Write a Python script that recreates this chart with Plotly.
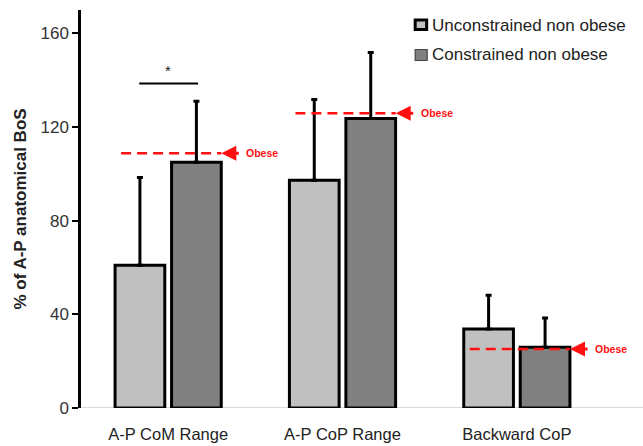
import plotly.graph_objects as go

categories = ["A-P CoM Range", "A-P CoP Range", "Backward CoP"]
series_names = ["Unconstrained non obese", "Constrained non obese"]
unconstrained_mean = [61.0, 97.3, 33.7]
unconstrained_err = [37.5, 34.5, 14.5]
constrained_mean = [105.0, 123.7, 26.0]
constrained_err = [26.0, 28.2, 12.4]
obese_values = [108.8, 125.9, 25.2]
obese_label = "Obese"
sig_bracket_y = 138.6
sig_label = "*"
y_ticks = [0, 40, 80, 120, 160]

light = "#c0c0c0"
dark = "#808080"
red = "#ff1010"
font = "Liberation Sans, Arial, sans-serif"

fig = go.Figure()
fig.add_trace(go.Bar(
    x=categories, y=unconstrained_mean, name=series_names[0],
    marker=dict(color=light, line=dict(color="black", width=3)),
    error_y=dict(type="data", symmetric=False, array=unconstrained_err,
                 arrayminus=[0] * len(categories), color="black", thickness=3, width=3),
    showlegend=False,
))
fig.add_trace(go.Bar(
    x=categories, y=constrained_mean, name=series_names[1],
    marker=dict(color=dark, line=dict(color="black", width=3)),
    error_y=dict(type="data", symmetric=False, array=constrained_err,
                 arrayminus=[0] * len(categories), color="black", thickness=3, width=3),
    showlegend=False,
))

shapes = []
annotations = []
line_start_off = -0.27
tip_off = 0.305
for i, v in enumerate(obese_values):
    shapes.append(dict(type="line", xref="x", yref="y", x0=i + line_start_off, x1=i + tip_off,
                       y0=v, y1=v, line=dict(color=red, width=2.5, dash="10px,6px")))
    annotations.append(dict(x=i + tip_off, y=v, xref="x", yref="y", text="", showarrow=True,
                            ax=19, ay=0, arrowhead=2, arrowsize=1, arrowwidth=3,
                            arrowcolor=red, standoff=0))
    annotations.append(dict(x=i + tip_off, y=v, xref="x", yref="y", text="<b>%s</b>" % obese_label,
                            showarrow=False, xanchor="left", yanchor="middle", xshift=23,
                            font=dict(family=font, size=10.5, color=red)))

shapes.append(dict(type="line", xref="x", yref="y", x0=-0.166, x1=0.172,
                   y0=sig_bracket_y, y1=sig_bracket_y, line=dict(color="black", width=2)))
annotations.append(dict(x=0.0, y=sig_bracket_y, xref="x", yref="y", text=sig_label,
                        showarrow=False, yanchor="bottom", yshift=3,
                        font=dict(family=font, size=15, color="#222")))

shapes.append(dict(type="line", xref="paper", yref="y", x0=0, x1=1.08, y0=0, y1=0,
                   line=dict(color="#cfcfcf", width=1.5), layer="below"))

W, H = 523.5, 398.0
def px_x(p):
    return (p - 81) / W
def px_y(p):
    return (408 - p) / H
shapes.append(dict(type="rect", xref="paper", yref="paper",
                   x0=px_x(415.5), x1=px_x(427), y0=px_y(29.5), y1=px_y(20),
                   fillcolor=light, line=dict(color="black", width=3)))
shapes.append(dict(type="rect", xref="paper", yref="paper",
                   x0=px_x(415.5), x1=px_x(427.5), y0=px_y(60.5), y1=px_y(49.5),
                   fillcolor=dark, line=dict(color="#444", width=1.2)))
annotations.append(dict(xref="paper", yref="paper", x=px_x(430), y=px_y(25), text=series_names[0],
                        showarrow=False, xanchor="left", yanchor="middle",
                        font=dict(family=font, size=17, color="#222")))
annotations.append(dict(xref="paper", yref="paper", x=px_x(430), y=px_y(55), text=series_names[1],
                        showarrow=False, xanchor="left", yanchor="middle",
                        font=dict(family=font, size=17, color="#222")))

fig.update_layout(
    width=643, height=446,
    margin=dict(l=81, r=38.5, t=10, b=38),
    paper_bgcolor="white", plot_bgcolor="white",
    barmode="group", bargap=0.352, bargroupgap=0.12,
    shapes=shapes, annotations=annotations,
    font=dict(family=font, size=17, color="#222"),
    xaxis=dict(range=[-0.5, 2.5], autorange=False, showline=False, ticks="", showgrid=False,
               zeroline=False, automargin=False, ticklabelstandoff=14,
               tickfont=dict(family=font, size=16.5, color="#222")),
    yaxis=dict(range=[0, 170], tickvals=y_ticks, showgrid=False, zeroline=False,
               automargin=False,
               showline=True, linecolor="black", linewidth=2.5,
               ticks="outside", ticklen=6, tickwidth=2, tickcolor="black",
               tickfont=dict(family=font, size=17, color="#333"),
               title=dict(text="<b>% of A-P anatomical BoS</b>", standoff=10,
                          font=dict(family=font, size=17, color="#222"))),
)

fig.write_html("out.html", config={"displayModeBar": False},
               post_script="document.body.style.margin='0';document.body.style.overflow='hidden';")
